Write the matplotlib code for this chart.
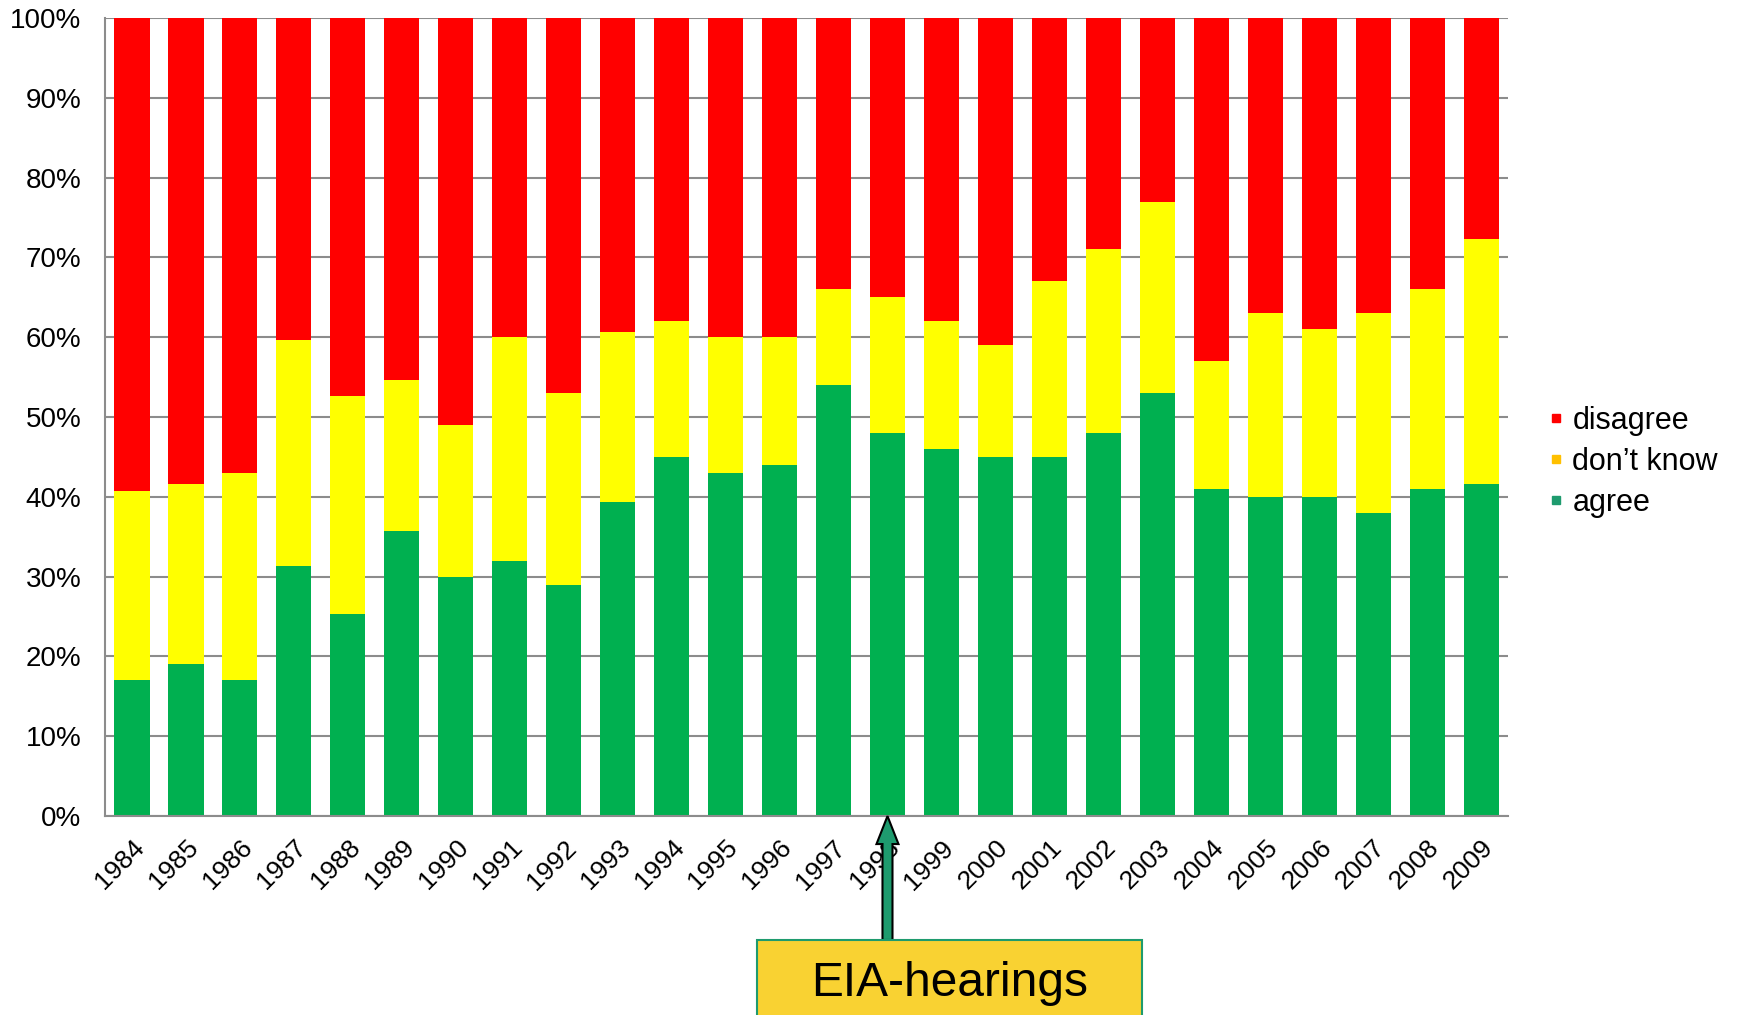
import numpy as np
import matplotlib
matplotlib.use("Agg")
import matplotlib.pyplot as plt
from matplotlib.lines import Line2D
from matplotlib.patches import FancyArrow, Rectangle

plt.rcParams['font.family'] = ['Liberation Sans', 'DejaVu Sans']

# survey shares in percent
years = [str(y) for y in range(1984, 2010)]
agree = [17, 19, 17, 31.3, 25.3, 35.7, 30, 32, 29, 39.4, 45, 43, 44, 54, 48,
         46, 45, 45, 48, 53, 41, 40, 40, 38, 41, 41.6]
agree_plus_dk = [40.7, 41.6, 43, 59.6, 52.6, 54.6, 49, 60, 53, 60.6, 62, 60, 60,
                 66, 65, 62, 59, 67, 71, 77, 57, 63, 61, 63, 66, 72.3]
dont_know = [b - a for a, b in zip(agree, agree_plus_dk)]
disagree = [100 - b for b in agree_plus_dk]
event_year = '1998'

fig = plt.figure(figsize=(17.42, 10.15), dpi=100)
ax = fig.add_axes([0.0603, 0.196, 0.8054, 0.7863])

x = np.arange(len(years))
w = 0.65
ax.bar(x, agree, w, color='#00B050', zorder=2)
ax.bar(x, dont_know, w, bottom=agree, color='#FFFF00', zorder=2)
ax.bar(x, disagree, w, bottom=agree_plus_dk, color='#FF0000', zorder=2)

ax.set_xlim(-0.5, len(years) - 0.5)
ax.set_ylim(0, 100)
ax.set_yticks(range(0, 101, 10))
ax.set_yticklabels([f'{v}%' for v in range(0, 101, 10)], fontsize=20)
ax.set_xticks(x)
ax.set_xticklabels(years, rotation=45, ha='right', rotation_mode='anchor', fontsize=19)
ax.tick_params(axis='y', length=0, pad=17)
ax.tick_params(axis='x', length=0, pad=14)
ax.yaxis.grid(True, color='#8C8C8C', linewidth=1.5, zorder=0)
for s in ['top', 'right']:
    ax.spines[s].set_visible(False)
for s in ['left', 'bottom']:
    ax.spines[s].set_color('#8C8C8C')
    ax.spines[s].set_linewidth(1.5)

handles = [Line2D([], [], marker='s', ls='', color=c, markersize=6)
           for c in ['#FF0000', '#FFC000', '#1E9B6E']]
fig.legend(handles, ['disagree', "don\u2019t know", 'agree'],
           loc='center left', bbox_to_anchor=(0.872, 0.545), frameon=False,
           fontsize=22, handletextpad=0.25, labelspacing=0.36, handlelength=0.6)

# EIA-hearings callout (inches == pixels/100)
fig.canvas.draw()
ax_px = ax.transData.transform((years.index(event_year), 0))
arrow_x = ax_px[0] / 100
arrow_top = ax_px[1] / 100
box_top = 0.75
fig.patches.append(FancyArrow(arrow_x, box_top, 0, arrow_top - box_top,
                              width=0.1, head_width=0.22, head_length=0.28,
                              length_includes_head=True, fc='#1E9B6E', ec='black',
                              lw=1.5, transform=fig.dpi_scale_trans, figure=fig))
fig.patches.append(Rectangle((7.57, -0.2), 3.85, box_top + 0.2,
                             fc='#F9D232', ec='#1E9B6E', lw=1.5,
                             transform=fig.dpi_scale_trans, figure=fig, zorder=3))
fig.text(9.5, 0.31, 'EIA-hearings', transform=fig.dpi_scale_trans,
         ha='center', va='center', fontsize=34.5, zorder=4)

fig.savefig('out.png', dpi=100)
